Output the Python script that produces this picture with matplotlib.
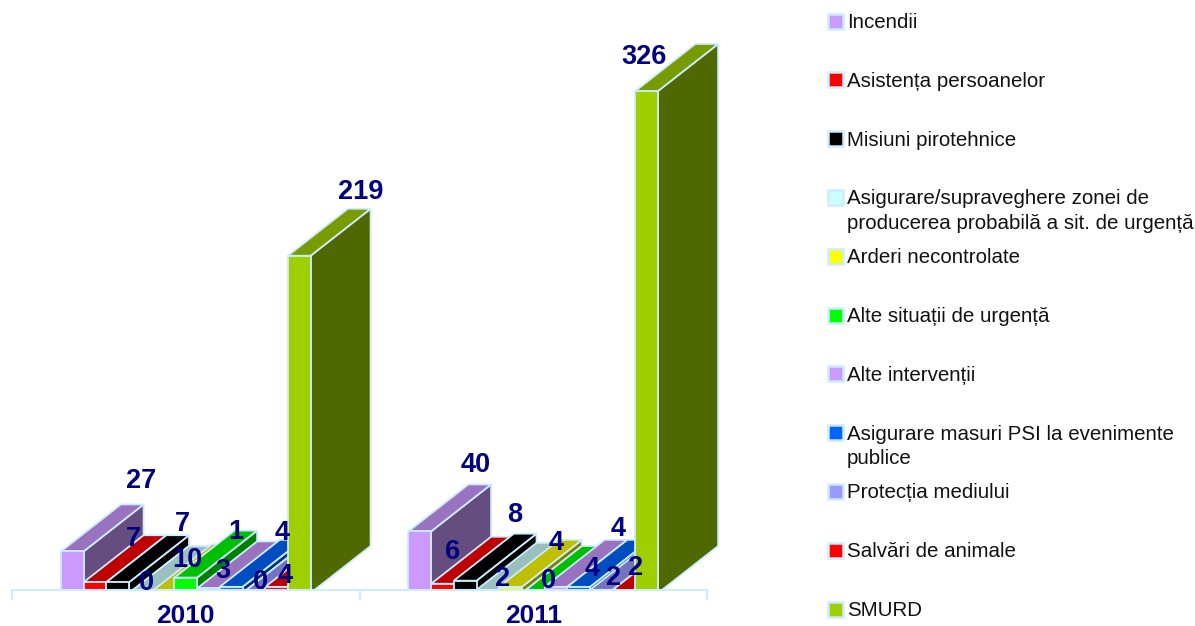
import matplotlib
matplotlib.use('Agg')
from matplotlib import pyplot as plt
from matplotlib.colors import to_rgb
from matplotlib.patches import Polygon, Rectangle

plt.rcParams['font.family'] = ['Liberation Sans', 'DejaVu Sans']

years = ['2010', '2011']
series = ['Incendii', 'Asistența persoanelor', 'Misiuni pirotehnice',
          'Asigurare/supraveghere zonei de\nproducerea probabilă a sit. de urgență',
          'Arderi necontrolate', 'Alte situații de urgență', 'Alte intervenții',
          'Asigurare masuri PSI la evenimente\npublice', 'Protecția mediului',
          'Salvări de animale', 'SMURD']
colors = ['#CC99FF', '#FF0000', '#000000', '#CCFFFF', '#FFFF00', '#00FF00',
          '#CC99FF', '#0066FF', '#9999FF', '#FF0000', '#9FCF00']
values_2010 = [27, 7, 7, 0, 1, 10, 3, 4, 0, 4, 219]
values_2011 = [40, 6, 8, 2, 4, 0, 4, 4, 2, 2, 326]

# hand placed data labels, pixels from the middle of the bar's front top
label_shift_2010 = [(69, 70), (38, 43), (65, 58), (6, 10), (73, 59), (2, 18),
                    (14, 17), (51, 54), (7, 11), (9, 11), (61, 64)]
label_shift_2011 = [(56, 66), (10, 32), (50, 66), (15, 11), (46, 44), (15, 12),
                    (36, 18), (39, 58), (12, 12), (12, 22), (-3, 34)]

edge = '#CCECFF'
navy = '#000080'
W, H = 1195, 626
px_per_group = 347.5
px_per_unit = 1.54
bar_w = 22.7 / px_per_group
depth_x = 60 / px_per_group
depth_y = 47 / px_per_unit
start = (1 - 11 * bar_w) / 2
x_max = 2.1


def shade(color, f):
    return tuple(c * f for c in to_rgb(color))


fig = plt.figure(figsize=(W / 100, H / 100), dpi=100)
ax = fig.add_axes([12 / W, 36 / H, x_max * px_per_group / W, 560 / H])

z = 3
for g, vals in enumerate([values_2010, values_2011]):
    for i, v in enumerate(vals):
        x0 = g + start + i * bar_w
        x1 = x0 + bar_w
        c = colors[i]
        side = [(x1, 0), (x1 + depth_x, depth_y), (x1 + depth_x, v + depth_y), (x1, v)]
        top = [(x0, v), (x1, v), (x1 + depth_x, v + depth_y), (x0 + depth_x, v + depth_y)]
        ax.add_patch(Polygon(side, fc=shade(c, 0.5), ec=edge, lw=1.3, zorder=z))
        ax.add_patch(Polygon(top, fc=shade(c, 0.75), ec=edge, lw=1.3, zorder=z))
        ax.bar(x0, v, width=bar_w, align='edge', color=c, edgecolor=edge, lw=1.3, zorder=z)
        z += 1

for g, (vals, shifts) in enumerate(zip([values_2010, values_2011],
                                       [label_shift_2010, label_shift_2011])):
    for i, v in enumerate(vals):
        ax.annotate(str(v), (g + start + (i + 0.5) * bar_w, v), xytext=shifts[i],
                    textcoords='offset pixels', ha='center', va='center',
                    color=navy, fontsize=19.5, fontweight='bold', zorder=100,
                    annotation_clip=False)

ax.set_xlim(0, x_max)
ax.set_ylim(3 / px_per_unit, (3 + 560) / px_per_unit)
ax.set_yticks([])
for s in ['left', 'right', 'top']:
    ax.spines[s].set_visible(False)
ax.spines['bottom'].set_color(edge)
ax.spines['bottom'].set_linewidth(1.5)
ax.spines['bottom'].set_zorder(50)
ax.spines['bottom'].set_bounds(0, 2)
ax.set_xticks([0, 1, 2], ['', '', ''])
ax.set_xticks([0.5, 1.5], years, minor=True)
ax.tick_params(axis='x', which='major', length=7.5, width=1.5, color=edge)
ax.tick_params(axis='x', which='minor', length=0, pad=10, labelsize=19, labelcolor=navy)
for t in ax.get_xticklabels(minor=True):
    t.set_fontweight('bold')

# legend, laid out by hand as the entries sit on a fixed pitch
lg = fig.add_axes([0, 0, 1, 1])
lg.set_xlim(0, W)
lg.set_ylim(H, 0)
lg.axis('off')
for i, name in enumerate(series):
    y = 21 + i * 58.8
    lg.add_patch(Rectangle((828.5, y - 7.5), 15, 15, fc=colors[i], ec=edge, lw=1.8))
    lg.text(847, y - 8, name, fontsize=14.75, color='#111111', va='top', ha='left',
            linespacing=1.38)

fig.savefig('out.png', dpi=100)
